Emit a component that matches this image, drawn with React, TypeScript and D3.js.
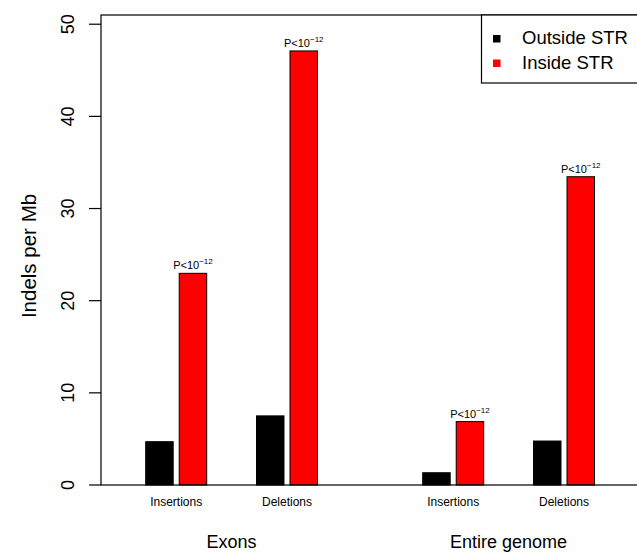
import React, { useEffect, useRef } from "react";
import * as d3 from "d3";

// data
const groups = ["Exons", "Entire genome"];
const categories = ["Insertions", "Deletions"];
const series = ["Outside STR", "Inside STR"];
const seriesColors = ["#000000", "#ff0000"];
const outsideSTR = [4.7, 7.5, 1.33, 4.77];
const insideSTR = [22.97, 47.1, 6.88, 33.45];
const yTicks = [0, 10, 20, 30, 40, 50];
const pLabel = ["P<10", "\u221212"];

const W = 637;
const H = 552;

export default function App() {
  const svgRef = useRef<SVGSVGElement>(null);

  useEffect(() => {
    const svg = d3.select(svgRef.current);
    svg.selectAll("*").remove();

    const font = "'Liberation Sans', Arial, Helvetica, sans-serif";
    const plotTop = 15;
    const plotBottom = 485;
    const plotLeft = 101;

    const y = d3.scaleLinear().domain([0, 51]).range([plotBottom, plotTop]);

    // pair centres: slot index = group * 2.5 + category
    const slotOf = (g: number, c: number) => g * 2.5 + c;
    const x = d3.scaleLinear().domain([0, 3.5]).range([176.2, 564]);
    const inner = d3
      .scaleBand<string>()
      .domain(series)
      .range([-30.5, 30.5])
      .paddingInner(0.18);

    const rows: { g: number; c: number; s: number; v: number }[] = [];
    groups.forEach((_, g) => {
      categories.forEach((__, c) => {
        const i = g * categories.length + c;
        rows.push({ g, c, s: 0, v: outsideSTR[i] });
        rows.push({ g, c, s: 1, v: insideSTR[i] });
      });
    });

    // bars
    svg
      .append("g")
      .selectAll("rect")
      .data(rows)
      .enter()
      .append("rect")
      .attr("x", (d) => x(slotOf(d.g, d.c)) + (inner(series[d.s]) as number))
      .attr("y", (d) => y(d.v))
      .attr("width", inner.bandwidth())
      .attr("height", (d) => y(0) - y(d.v))
      .attr("fill", (d) => seriesColors[d.s])
      .attr("stroke", "#000")
      .attr("stroke-width", 1);

    // p-value labels over red bars
    const pl = svg
      .append("g")
      .selectAll("text")
      .data(rows.filter((d) => d.s === 1))
      .enter()
      .append("text")
      .attr(
        "x",
        (d) =>
          x(slotOf(d.g, d.c)) + (inner(series[1]) as number) + inner.bandwidth() / 2
      )
      .attr("y", (d) => y(d.v) - 4)
      .attr("text-anchor", "middle")
      .attr("font-family", font)
      .attr("font-size", 11)
      .attr("fill", "#000");
    pl.append("tspan").text(pLabel[0]);
    pl.append("tspan").attr("dy", -5).attr("font-size", 8).text(pLabel[1]);

    // plot box
    svg
      .append("rect")
      .attr("x", plotLeft)
      .attr("y", plotTop)
      .attr("width", 700)
      .attr("height", plotBottom - plotTop)
      .attr("fill", "none")
      .attr("stroke", "#000")
      .attr("stroke-width", 1.2);

    // y axis
    const ya = svg.append("g");
    ya.selectAll("line")
      .data(yTicks)
      .enter()
      .append("line")
      .attr("x1", plotLeft - 12)
      .attr("x2", plotLeft)
      .attr("y1", (d) => y(d))
      .attr("y2", (d) => y(d))
      .attr("stroke", "#000")
      .attr("stroke-width", 1.2);
    ya.selectAll("text")
      .data(yTicks)
      .enter()
      .append("text")
      .attr("transform", (d) => `translate(73.5,${y(d)}) rotate(-90)`)
      .attr("text-anchor", "middle")
      .attr("font-family", font)
      .attr("font-size", 18)
      .text((d) => d);

    svg
      .append("text")
      .attr("transform", `translate(36,256) rotate(-90)`)
      .attr("text-anchor", "middle")
      .attr("font-family", font)
      .attr("font-size", 20.5)
      .text("Indels per Mb");

    // category labels
    const catRows = rows.filter((d) => d.s === 0);
    svg
      .append("g")
      .selectAll("text")
      .data(catRows)
      .enter()
      .append("text")
      .attr("x", (d) => x(slotOf(d.g, d.c)))
      .attr("y", 506)
      .attr("text-anchor", "middle")
      .attr("font-family", font)
      .attr("font-size", 12)
      .text((d) => categories[d.c]);

    // group labels
    svg
      .append("g")
      .selectAll("text")
      .data(groups)
      .enter()
      .append("text")
      .attr("x", (_, g) => (x(slotOf(g, 0)) + x(slotOf(g, 1))) / 2)
      .attr("y", 547.5)
      .attr("text-anchor", "middle")
      .attr("font-family", font)
      .attr("font-size", 18)
      .text((d) => d);

    // legend
    const lg = svg.append("g");
    lg.append("rect")
      .attr("x", 481.5)
      .attr("y", plotTop)
      .attr("width", 200)
      .attr("height", 68)
      .attr("fill", "#fff")
      .attr("stroke", "#000")
      .attr("stroke-width", 1.2);
    series.forEach((s, i) => {
      lg.append("rect")
        .attr("x", 493)
        .attr("y", 35 + i * 24.5)
        .attr("width", 7.5)
        .attr("height", 7.5)
        .attr("fill", seriesColors[i]);
      lg.append("text")
        .attr("x", 522)
        .attr("y", 44 + i * 24.5)
        .attr("font-family", font)
        .attr("font-size", 18.5)
        .text(s);
    });
  }, []);

  return (
    <svg
      ref={svgRef}
      width={W}
      height={H}
      style={{ position: "absolute", left: 0, top: 0, background: "#fff" }}
    />
  );
}
